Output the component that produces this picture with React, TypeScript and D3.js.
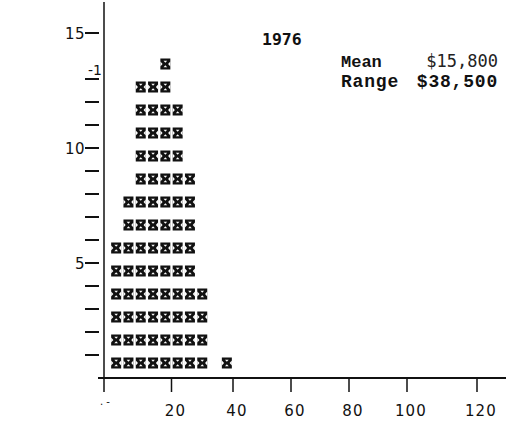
import React from "react";
import * as d3 from "d3";

// Income bins (thousands of dollars, $4k wide) and number of families in each
const BIN_STARTS = [0, 4, 8, 12, 16, 20, 24, 28, 32, 36];
const BIN_COUNTS = [6, 8, 13, 13, 14, 12, 9, 4, 0, 1];
const BIN_WIDTH = 4;

const X_TICKS = [20, 40, 60, 80, 100, 120];
const Y_TICKS = [1, 2, 3, 4, 5, 6, 7, 8, 9, 10, 11, 12, 13, 15];
const Y_LABELS = [5, 10, 15];

const TITLE = "1976";
const MEAN_LABEL = "Mean";
const MEAN_VALUE = "$15,800";
const RANGE_LABEL = "Range";
const RANGE_VALUE = "$38,500";

const W = 506;
const H = 430;
const AXIS_LEFT = 104;
const AXIS_Y = 378;

// Blocky hourglass icon, drawn in a 10x11 box
function Glyph({ x, y }: { x: number; y: number }) {
  return (
    <g transform={`translate(${x},${y})`}>
      <rect x={0} y={0} width={10} height={11} fill="#111" />
      <path d="M0,3 L0,8 L2.2,5.5 Z" fill="#fff" />
      <path d="M10,3 L10,8 L7.8,5.5 Z" fill="#fff" />
      <path d="M3.2,2.2 L6.8,2.2 L5,4.3 Z" fill="#fff" />
      <path d="M3.2,8.8 L6.8,8.8 L5,6.7 Z" fill="#fff" />
    </g>
  );
}

export default function App() {
  const x = d3.scaleLinear().domain([0, 40, 100, 120]).range([110, 233, 407, 477]);
  const y = d3.scaleLinear().domain([0, 15]).range([AXIS_Y, 33]);

  const glyphs: { key: string; gx: number; gy: number }[] = [];
  BIN_STARTS.forEach((start, i) => {
    const cx = (x(start) + x(start + BIN_WIDTH)) / 2;
    for (let k = 1; k <= BIN_COUNTS[i]; k++) {
      glyphs.push({ key: `${i}-${k}`, gx: cx - 5, gy: y(k) + 2.5 });
    }
  });

  const axisFont = "'DejaVu Sans', sans-serif";
  const monoBold = "'Liberation Mono', monospace";

  return (
    <svg
      width={W}
      height={H}
      style={{ position: "absolute", left: 0, top: 0, background: "#fff" }}
    >
      {/* y axis */}
      <line x1={AXIS_LEFT} x2={AXIS_LEFT} y1={2} y2={AXIS_Y} stroke="#111" strokeWidth={1.5} />
      {Y_TICKS.map((t) => (
        <line key={t} x1={85} x2={99} y1={y(t)} y2={y(t)} stroke="#111" strokeWidth={2} />
      ))}
      {Y_LABELS.map((t) => (
        <text
          key={t}
          x={85}
          y={y(t) + 5.5}
          textAnchor="end"
          fontFamily={axisFont}
          fontSize={15}
          letterSpacing={0.5}
          fill="#111"
        >
          {t}
        </text>
      ))}
      <text x={102} y={y(14) + 19} textAnchor="end" fontFamily={axisFont} fontSize={14} fill="#111">
        -1
      </text>

      {/* x axis */}
      <line x1={98} x2={W} y1={AXIS_Y} y2={AXIS_Y} stroke="#111" strokeWidth={2} />
      <line x1={AXIS_LEFT} x2={AXIS_LEFT} y1={AXIS_Y} y2={AXIS_Y + 14} stroke="#111" strokeWidth={1.5} />
      {X_TICKS.map((t) => (
        <g key={t}>
          <line x1={x(t)} x2={x(t)} y1={AXIS_Y} y2={AXIS_Y + 14} stroke="#111" strokeWidth={1.5} />
          <text
            x={x(t) + 4}
            y={416}
            textAnchor="middle"
            fontFamily={axisFont}
            fontSize={15}
            letterSpacing={1.2}
            fill="#111"
          >
            {t}
          </text>
        </g>
      ))}
      <text x={AXIS_LEFT + 1} y={405} textAnchor="middle" fontFamily={axisFont} fontSize={10} fill="#111">
        {".      -"}
      </text>

      {/* stacked icons */}
      {glyphs.map((g) => (
        <Glyph key={g.key} x={g.gx} y={g.gy} />
      ))}

      {/* title and summary */}
      <text x={262} y={45} fontFamily="'DejaVu Sans Mono', monospace" fontWeight="bold" fontSize={16.5} fill="#111">
        {TITLE}
      </text>
      <text x={341} y={67} fontFamily={monoBold} fontWeight="bold" fontSize={17} fill="#111">
        {MEAN_LABEL}
      </text>
      <text
        x={498}
        y={67}
        textAnchor="end"
        fontFamily="'DejaVu Sans Mono', monospace"
        fontWeight={200}
        fontSize={17}
        fill="#222"
      >
        {MEAN_VALUE}
      </text>
      <text
        x={341}
        y={87}
        fontFamily={monoBold}
        fontWeight="bold"
        fontSize={18}
        letterSpacing={0.8}
        fill="#111"
      >
        {RANGE_LABEL}
      </text>
      <text
        x={498}
        y={87}
        textAnchor="end"
        fontFamily={monoBold}
        fontWeight="bold"
        fontSize={18}
        letterSpacing={0.8}
        fill="#111"
      >
        {RANGE_VALUE}
      </text>
    </svg>
  );
}
